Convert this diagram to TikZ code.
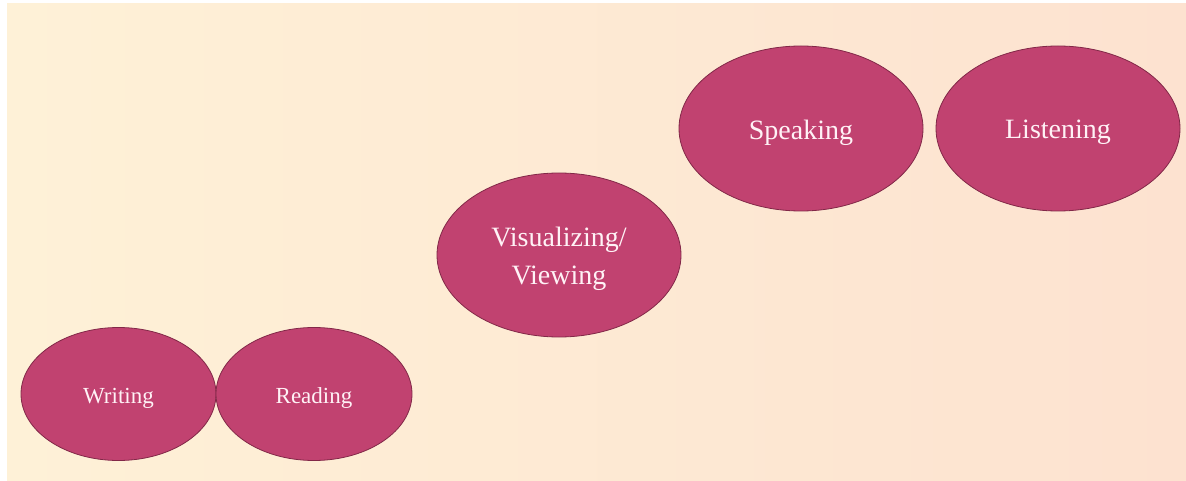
\documentclass[tikz,border=0pt]{standalone}
\usepackage{fontspec}
\setmainfont{Liberation Serif}
\usetikzlibrary{shapes.geometric}
\definecolor{bgleft}{RGB}{254,241,215}
\definecolor{bgright}{RGB}{253,226,208}
\definecolor{ovfill}{RGB}{193,66,112}
\definecolor{ovline}{RGB}{130,40,72}
\definecolor{ovtext}{RGB}{255,242,246}
\newcommand{\lowtxt}[1]{\raisebox{-4pt}[\height][\depth]{#1}}
\begin{document}
\begin{tikzpicture}[x=1pt,y=-1pt,
  oval/.style={ellipse,fill=ovfill,draw=ovline,line width=0.8pt,inner sep=0pt,
    text=ovtext,align=center},
  small/.style={oval,font=\fontsize{23}{26}\selectfont},
  big/.style={oval,font=\fontsize{28}{38}\selectfont}]
\useasboundingbox (0,0) rectangle (1186,481);
\fill[white] (0,0) rectangle (1186,481);
\shade[shading=axis,shading angle=100,left color=bgleft,right color=bgright] (7,4) rectangle (1186,481);
\node[small,minimum width=195pt,minimum height=133pt] (writing) at (118.5,394) {\lowtxt{Writing}};
\node[small,minimum width=196pt,minimum height=133pt] (reading) at (314,394) {\lowtxt{Reading}};
\node[big,minimum width=244pt,minimum height=164pt] (visual) at (559,255) {\lowtxt{Visualizing/}\\\lowtxt{Viewing}};
\node[big,minimum width=244pt,minimum height=165pt] (speaking) at (801,128.5) {\lowtxt{Speaking}};
\node[big,minimum width=244pt,minimum height=165pt] (listening) at (1058,128.5) {\lowtxt{Listening}};
\end{tikzpicture}
\end{document}
